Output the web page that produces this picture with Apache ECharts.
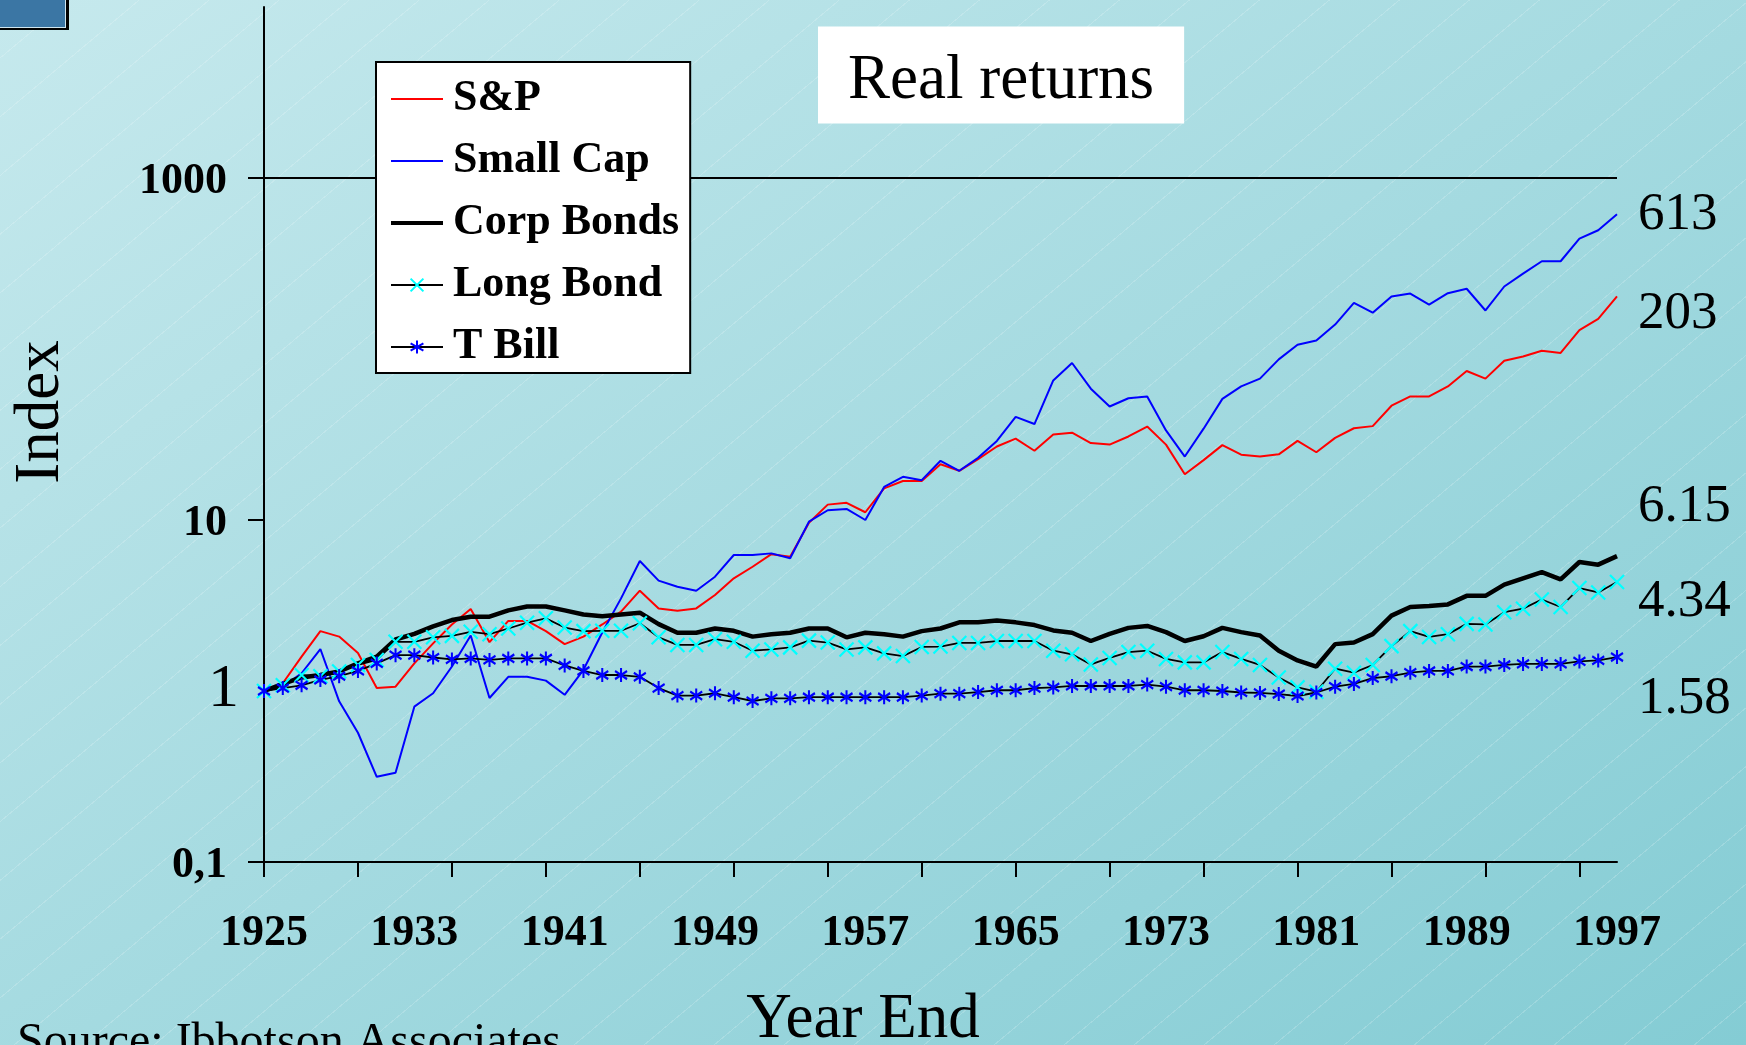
<!DOCTYPE html>
<html>
<head>
<meta charset="utf-8">
<title>Real returns</title>
<script src="https://cdn.jsdelivr.net/npm/echarts@6/dist/echarts.min.js"></script>
<style>
  html, body { margin: 0; padding: 0; }
  body {
    width: 1746px;
    height: 1045px;
    overflow: hidden;
    background:
      repeating-linear-gradient(140deg, rgba(255,255,255,0) 0px, rgba(255,255,255,0) 44px, rgba(255,255,255,0.18) 44px, rgba(255,255,255,0.18) 45px),
      linear-gradient(to bottom right, #c6e9ed, #84ccd4);
  }
  #chart { width: 1746px; height: 1045px; }
</style>
</head>
<body>
<div id="chart"></div>
<script>
// index value of 1 dollar invested at end of 1925
const years = [];
for (let y = 1925; y <= 1997; y++) years.push(String(y));

const spReturns = [
  1.00, 1.11, 1.59, 2.24, 2.08, 1.67, 1.04, 1.06, 1.45, 1.90,
  2.45, 3.02, 1.93, 2.57, 2.57, 2.24, 1.88, 2.08, 2.45, 2.91,
  3.86, 3.04, 2.95, 3.04, 3.64, 4.56, 5.33, 6.31, 6.10, 9.64,
  12.3, 12.6, 11.1, 15.3, 16.9, 16.9, 21.2, 19.4, 22.7, 26.9,
  29.9, 25.4, 31.6, 32.4, 28.2, 27.6, 30.8, 35.2, 27.6, 18.5,
  22.4, 27.4, 24.1, 23.5, 24.2, 29.0, 24.9, 30.2, 34.4, 35.4,
  46.6, 52.8, 52.8, 60.4, 74.4, 67.1, 85.3, 90.4, 97.6, 94.9,
  129, 150, 203
];
const smallCap = [
  1.00, 1.06, 1.27, 1.76, 0.87, 0.57, 0.315, 0.333, 0.81, 0.97,
  1.39, 2.11, 0.91, 1.21, 1.21, 1.15, 0.95, 1.33, 2.20, 3.48,
  5.76, 4.42, 4.07, 3.86, 4.66, 6.24, 6.24, 6.38, 5.97, 9.77,
  11.4, 11.6, 10.0, 15.6, 17.9, 17.1, 22.2, 19.4, 23.1, 29.0,
  40.1, 36.4, 65.5, 82.8, 58.6, 46.1, 51.5, 52.8, 33.4, 23.5,
  34.2, 51.1, 60.4, 67.1, 87.0, 106, 112, 139, 186, 163,
  203, 211, 182, 212, 225, 168, 232, 276, 326, 326,
  442, 495, 613
];
const corpBonds = [
  1.00, 1.10, 1.20, 1.24, 1.30, 1.45, 1.59, 2.00, 2.16, 2.39,
  2.60, 2.72, 2.72, 2.96, 3.12, 3.12, 2.96, 2.80, 2.74, 2.80,
  2.87, 2.46, 2.19, 2.19, 2.32, 2.25, 2.08, 2.15, 2.19, 2.32,
  2.32, 2.06, 2.19, 2.15, 2.08, 2.24, 2.32, 2.52, 2.52, 2.58,
  2.52, 2.43, 2.26, 2.19, 1.96, 2.16, 2.34, 2.40, 2.21, 1.96,
  2.09, 2.34, 2.21, 2.11, 1.72, 1.51, 1.39, 1.88, 1.92, 2.15,
  2.76, 3.10, 3.14, 3.21, 3.60, 3.60, 4.19, 4.56, 4.96, 4.50,
  5.68, 5.48, 6.15
];
const longBond = [
  1.00, 1.08, 1.24, 1.22, 1.30, 1.42, 1.52, 1.94, 1.94, 2.06,
  2.10, 2.22, 2.15, 2.32, 2.51, 2.66, 2.35, 2.24, 2.25, 2.25,
  2.49, 2.06, 1.86, 1.86, 2.01, 1.94, 1.72, 1.75, 1.80, 1.97,
  1.92, 1.75, 1.80, 1.66, 1.60, 1.81, 1.82, 1.91, 1.91, 1.96,
  1.96, 1.96, 1.72, 1.64, 1.43, 1.56, 1.69, 1.72, 1.54, 1.47,
  1.47, 1.69, 1.54, 1.42, 1.20, 1.05, 0.99, 1.35, 1.28, 1.42,
  1.83, 2.24, 2.07, 2.15, 2.47, 2.45, 2.89, 3.03, 3.43, 3.10,
  4.00, 3.77, 4.34
];
const tBill = [
  1.00, 1.04, 1.08, 1.16, 1.22, 1.31, 1.45, 1.62, 1.62, 1.57,
  1.53, 1.55, 1.52, 1.55, 1.55, 1.55, 1.41, 1.31, 1.24, 1.24,
  1.21, 1.04, 0.94, 0.94, 0.97, 0.92, 0.874, 0.906, 0.906, 0.92,
  0.92, 0.92, 0.92, 0.92, 0.92, 0.94, 0.965, 0.965, 0.985, 1.01,
  1.01, 1.04, 1.05, 1.07, 1.07, 1.07, 1.07, 1.09, 1.06, 1.01,
  1.01, 1.00, 0.98, 0.975, 0.96, 0.935, 0.98, 1.06, 1.10, 1.19,
  1.22, 1.28, 1.31, 1.31, 1.39, 1.39, 1.42, 1.44, 1.44, 1.44,
  1.49, 1.51, 1.58
];

// y axis labels (log scale), only these are printed
const yLabelValues = [0.1, 1, 10, 1000];
const yLabelTexts = ['0,1', '1', '10', '1000'];
// outer tick only at these
const yTickValues = [0.1, 10, 1000];

const serif = '"Liberation Serif", "Times New Roman", serif';
const chart = echarts.init(document.getElementById('chart'));

function yLabel(v) {
  for (let i = 0; i < yLabelValues.length; i++) {
    if (Math.abs(Math.log10(v) - Math.log10(yLabelValues[i])) < 0.01) {
      return yLabelValues[i] === 1 ? '{one|' + yLabelTexts[i] + '}' : '{bold|' + yLabelTexts[i] + '}';
    }
  }
  return '';
}

function endLabel(dy) {
  return {
    show: true,
    distance: 21,
    offset: [0, dy],
    formatter: function (p) { return String(p.value); },
    fontFamily: serif,
    fontSize: 53,
    color: '#000'
  };
}

const option = {
  animation: false,
  backgroundColor: 'transparent',
  title: {
    text: 'Real returns',
    left: 818,
    top: 27,
    padding: [23, 30, 11, 30],
    backgroundColor: '#fff',
    textStyle: {
      fontFamily: serif,
      fontSize: 63,
      fontWeight: 'normal',
      color: '#000',
      lineHeight: 62
    }
  },
  legend: {
    orient: 'vertical',
    left: 376,
    top: 62,
    padding: [12, 11, 1, 13],
    itemGap: 12,
    itemWidth: 52,
    itemHeight: 16,
    selectedMode: false,
    backgroundColor: '#fff',
    borderColor: '#000',
    borderWidth: 2,
    textStyle: {
      fontFamily: serif,
      fontSize: 44,
      fontWeight: 'bold',
      color: '#000',
      lineHeight: 50,
      padding: [0, 0, 0, 5]
    },
    data: [
      { name: 'S&P', itemStyle: { opacity: 0 }, lineStyle: { color: '#ff0000', width: 2 } },
      { name: 'Small Cap', itemStyle: { opacity: 0 }, lineStyle: { color: '#0000ff', width: 2 } },
      { name: 'Corp Bonds', itemStyle: { opacity: 0 }, lineStyle: { color: '#000000', width: 4 } },
      { name: 'Long Bond', lineStyle: { color: '#000000', width: 2 } },
      { name: 'T Bill', lineStyle: { color: '#000000', width: 2 } }
    ]
  },
  grid: {
    left: 264,
    right: 129,
    top: 7,
    bottom: 183,
    containLabel: false,
    outerBoundsMode: 'none'
  },
  xAxis: {
    type: 'category',
    data: years,
    boundaryGap: false,
    axisLine: { onZero: false, lineStyle: { color: '#000', width: 2 } },
    axisTick: { show: true, interval: 4, length: 15, lineStyle: { color: '#000', width: 2 } },
    axisLabel: {
      interval: 7,
      margin: 50,
      fontFamily: serif,
      fontSize: 44,
      fontWeight: 'bold',
      color: '#000'
    },
    splitLine: { show: false }
  },
  yAxis: {
    type: 'log',
    min: 0.1,
    max: 10000,
    axisLine: { show: true, onZero: false, lineStyle: { color: '#000', width: 2 } },
    axisTick: { show: true, length: 16, customValues: yTickValues, lineStyle: { color: '#000', width: 2 } },
    axisLabel: {
      margin: 25,
      formatter: yLabel,
      rich: {
        bold: { fontFamily: serif, fontSize: 44, fontWeight: 'bold', color: '#000', padding: [8, 12, 0, 0] },
        one: { fontFamily: serif, fontSize: 62, color: '#000', padding: [0, 0, 2, 0] }
      }
    },
    // every other decade line is hidden: 0.1, 10, 1000 get drawn
    splitLine: { show: true, lineStyle: { color: ['#000', 'rgba(0,0,0,0)'], width: 2 } },
    minorTick: { show: false }
  },
  graphic: [
    { type: 'rect', x: 0, y: 0, shape: { width: 69, height: 30 }, style: { fill: '#000' } },
    { type: 'rect', x: 0, y: 0, shape: { width: 66, height: 28 }, style: { fill: '#cfe6f0' } },
    { type: 'rect', x: 0, y: 0, shape: { width: 65, height: 27 }, style: { fill: '#3b76a4' } },
    {
      type: 'text', x: 41, y: 412, rotation: Math.PI / 2,
      style: { text: 'Index', font: '63px ' + serif, fill: '#000', align: 'center', verticalAlign: 'middle', textAlign: 'center', textVerticalAlign: 'middle' }
    },
    {
      type: 'text', x: 863, y: 1020,
      style: { text: 'Year End', font: '63px ' + serif, fill: '#000', align: 'center', verticalAlign: 'middle', textAlign: 'center', textVerticalAlign: 'middle' }
    },
    {
      type: 'text', x: 17, y: 1043,
      style: { text: 'Source: Ibbotson Associates', font: '48px ' + serif, fill: '#000', align: 'left', verticalAlign: 'middle', textAlign: 'left', textVerticalAlign: 'middle' }
    }
  ],
  series: [
    {
      name: 'S&P', type: 'line', data: spReturns, symbol: 'none',
      lineStyle: { color: '#ff0000', width: 2 }, itemStyle: { color: '#ff0000' },
      endLabel: endLabel(18)
    },
    {
      name: 'Small Cap', type: 'line', data: smallCap, symbol: 'none',
      lineStyle: { color: '#0000ff', width: 2 }, itemStyle: { color: '#0000ff' },
      endLabel: endLabel(1)
    },
    {
      name: 'Corp Bonds', type: 'line', data: corpBonds, symbol: 'none',
      lineStyle: { color: '#000000', width: 4.5 }, itemStyle: { color: '#000000' },
      endLabel: endLabel(-49)
    },
    {
      name: 'Long Bond', type: 'line', data: longBond,
      symbol: 'path://M0,0L12,12M0,12L12,0', symbolSize: 14, showAllSymbol: true,
      lineStyle: { color: '#000000', width: 1.8 },
      itemStyle: { color: '#00ffff', borderColor: '#00ffff', borderWidth: 2.2 },
      endLabel: endLabel(20)
    },
    {
      name: 'T Bill', type: 'line', data: tBill,
      symbol: 'path://M5,0L5,12M0,2.5L10,9.5M0,9.5L10,2.5', symbolSize: [12, 14], showAllSymbol: true,
      lineStyle: { color: '#000000', width: 1.8 },
      itemStyle: { color: '#0000ff', borderColor: '#0000ff', borderWidth: 2.2 },
      endLabel: endLabel(42)
    }
  ]
};

chart.setOption(option);
</script>
</body>
</html>
